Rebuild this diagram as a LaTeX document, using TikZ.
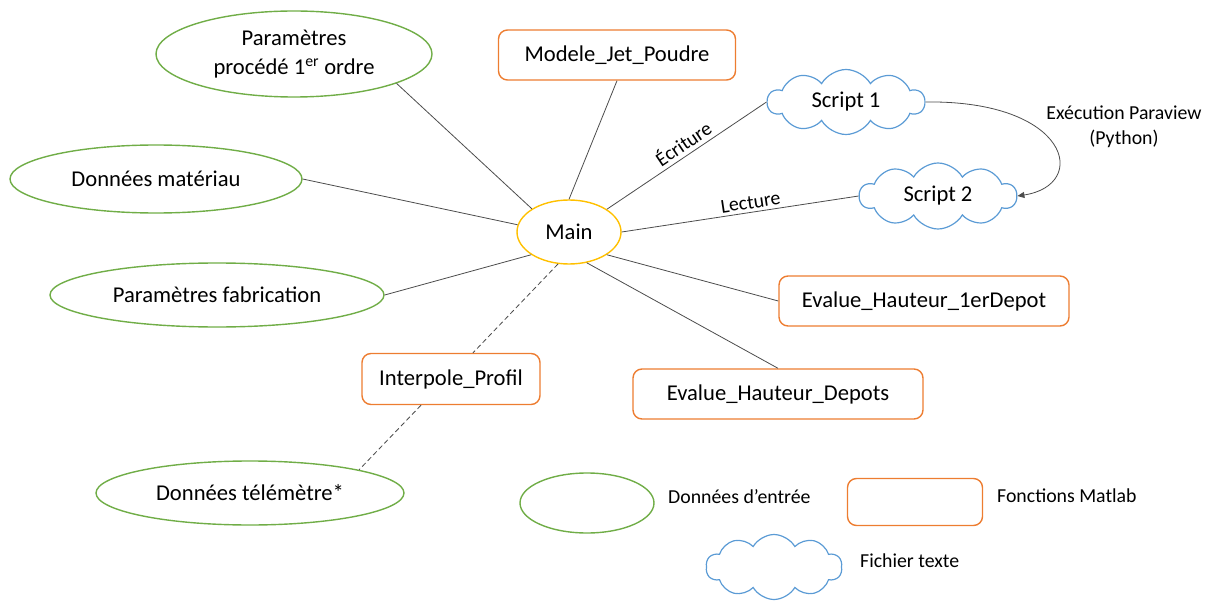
\documentclass[tikz,border=0pt]{standalone}
\usepackage{fontspec}
\setmainfont{Carlito}
\usetikzlibrary{shapes.geometric,shapes.symbols,arrows.meta,calc}
\definecolor{ogreen}{RGB}{112,173,71}
\definecolor{oorange}{RGB}{237,125,49}
\definecolor{ogold}{RGB}{255,192,0}
\definecolor{oblue}{RGB}{91,155,213}
\begin{document}
\begin{tikzpicture}[x=1pt,y=-1pt,
  bigtxt/.style={font=\fontsize{22.6}{29}\selectfont},
  smalltxt/.style={font=\fontsize{19.8}{25}\selectfont},
  inp/.style={ellipse,draw=ogreen,line width=1.4pt,inner sep=0pt,bigtxt,align=center},
  fn/.style={rectangle,rounded corners=9pt,draw=oorange,line width=1.4pt,inner sep=0pt,bigtxt},
  txtfile/.style={cloud,cloud puffs=10,cloud puff arc=120,cloud ignores aspect,draw=oblue,line width=1.2pt,inner sep=0pt,bigtxt},
  link/.style={draw=black!70,line width=0.8pt},
  dlink/.style={link,dash pattern=on 5pt off 3pt}]
\useasboundingbox (0,0) rectangle (1212,604);
% nodes
\node[inp,minimum width=276pt,minimum height=86pt] (pp) at (294,54) {Paramètres\\procédé 1\textsuperscript{er} ordre};
\node[fn,minimum width=237pt,minimum height=50pt] (modele) at (617,55) {Modele\_Jet\_Poudre};
\node[inp,minimum width=292pt,minimum height=68pt] (dm) at (156,179) {Données matériau};
\node[ellipse,draw=ogold,line width=1.4pt,inner sep=0pt,bigtxt,minimum width=104pt,minimum height=64pt] (main) at (569,232) {Main};
\node[txtfile,minimum width=157pt,minimum height=65pt] (s1) at (846,102) {Script 1};
\node[txtfile,minimum width=157pt,minimum height=66pt] (s2) at (938,196) {Script 2};
\node[inp,minimum width=334pt,minimum height=64pt] (pf) at (217,295) {Paramètres fabrication};
\node[fn,minimum width=290pt,minimum height=50pt] (ev1) at (924,301) {Evalue\_Hauteur\_1erDepot};
\node[fn,minimum width=178pt,minimum height=51pt] (interp) at (451,379) {Interpole\_Profil};
\node[fn,minimum width=290pt,minimum height=50pt] (ev2) at (778,394) {Evalue\_Hauteur\_Depots};
\node[inp,minimum width=308pt,minimum height=64pt] (tel) at (250,493) {Données télémètre*};
% legend
\node[inp,minimum width=134pt,minimum height=60pt] (lginp) at (587,503) {};
\node[smalltxt,anchor=west,inner sep=0pt] (lginptxt) at (668,497) {Données d’entrée};
\node[fn,minimum width=135pt,minimum height=47pt] (lgfn) at (915,502) {};
\node[smalltxt,anchor=west,inner sep=0pt] (lgfntxt) at (997,496) {Fonctions Matlab};
\node[txtfile,minimum width=136pt,minimum height=65pt] (lgtxt) at (774,567) {};
\node[smalltxt,anchor=west,inner sep=0pt] (lgtxttxt) at (860,561) {Fichier texte};
% connectors
\draw[link] (main.148) -- (pp.-16.5);
\draw[link] (main.north) -- (modele.south);
\draw[link] (main.172) -- (dm.east);
\draw[link] (main.31) -- node[pos=0.52,above,sloped,smalltxt,inner sep=4pt] {Écriture} (s1.west);
\draw[link] (main.east) -- node[pos=0.55,above,sloped,smalltxt,inner sep=3pt] {Lecture} (s2.west);
\draw[link] (main.211) -- (pf.east);
\draw[link] (main.-31) -- (ev1.west);
\draw[link] (main.-60) -- (ev2.north);
\draw[dlink] (main.251) -- ([xshift=22pt]interp.north);
\draw[dlink] ([xshift=-30pt]interp.south) -- (tel.12);
\draw[link,-{Triangle[length=7pt,width=6pt]}] (s1.east) .. controls (1070,100) and (1090,185) .. (s2.east);
\node[smalltxt,align=center] (lbl) at (1124,127) {Exécution Paraview\\(Python)};
\end{tikzpicture}
\end{document}
